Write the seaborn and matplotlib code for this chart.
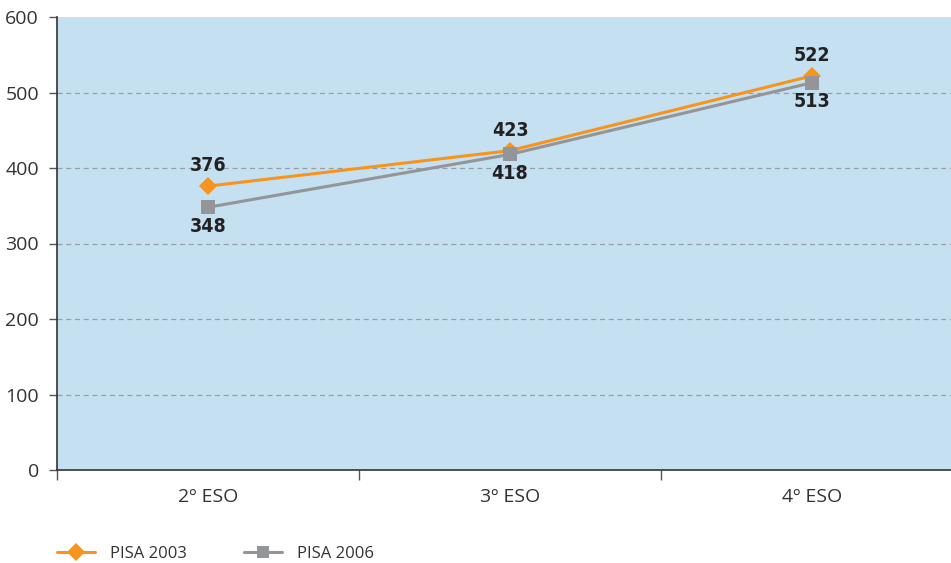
import pandas as pd
import seaborn as sns
import matplotlib.pyplot as plt
from matplotlib.lines import Line2D

cursos = ['2º ESO', '3º ESO', '4º ESO']
pisa_2003 = [376, 423, 522]
pisa_2006 = [348, 418, 513]
series = ['PISA 2003', 'PISA 2006']


def main() -> None:
    df = pd.DataFrame({
        'curso': cursos * 2,
        'valor': pisa_2003 + pisa_2006,
        'serie': [series[0]] * 3 + [series[1]] * 3,
    })

    sns.set_style('white')
    plt.rcParams['font.family'] = ['Open Sans', 'DejaVu Sans']

    colors = {'PISA 2003': '#F7941D', 'PISA 2006': '#939598'}
    markers = {'PISA 2003': 'D', 'PISA 2006': 's'}

    fig = plt.figure(figsize=(9.51, 5.63), dpi=100)
    ax = fig.add_axes([57 / 951, 93 / 563, 894 / 951, 453 / 563])
    ax.set_facecolor('#C5E0F1')

    sns.lineplot(data=df, x='curso', y='valor', hue='serie', style='serie',
                 palette=colors, markers=markers, dashes=False, sort=False,
                 linewidth=2.2, markersize=9.5, markeredgewidth=0, ax=ax, legend=False)

    ax.set_xlim(-0.5, 2.46)
    ax.set_ylim(0, 600)
    ax.set_yticks(range(0, 601, 100))
    ax.set_xticks([0, 1, 2])
    ax.set_xticks([-0.5, 0.5, 1.5], minor=True)
    ax.tick_params(axis='x', which='major', length=0, pad=13, labelsize=14, colors='#333333')
    ax.tick_params(axis='x', which='minor', length=7, width=1, color='#555555', direction='out', bottom=True)
    ax.tick_params(axis='y', length=6, width=1, color='#555555', direction='out', left=True,
                   pad=7, labelsize=14, labelcolor='#333333')
    ax.set_xlabel('')
    ax.set_ylabel('')

    for y in range(100, 600, 100):
        ax.axhline(y, color='#969ea6', linestyle=(0, (4, 3)), linewidth=0.9, zorder=0.5)

    for s in ['top', 'right']:
        ax.spines[s].set_visible(False)
    for s in ['left', 'bottom']:
        ax.spines[s].set_color('#333333')
        ax.spines[s].set_linewidth(1.2)

    for i, v in enumerate(pisa_2003):
        ax.annotate(str(v), (i, v), xytext=(0, 14.5), textcoords='offset points',
                    ha='center', va='center', fontsize=14, fontweight='bold',
                    family='DejaVu Sans', fontstretch='condensed', color='#222222')
    for i, v in enumerate(pisa_2006):
        ax.annotate(str(v), (i, v), xytext=(0, -13.5), textcoords='offset points',
                    ha='center', va='center', fontsize=14, fontweight='bold',
                    family='DejaVu Sans', fontstretch='condensed', color='#222222')

    handles = [Line2D([], [], color=colors[s], marker=markers[s], markersize=9,
                      markeredgewidth=0, linewidth=2.2) for s in series]
    fig.legend(handles, series, loc='center left', bbox_to_anchor=(42 / 951, 1 - 554 / 563),
               ncol=2, frameon=False, fontsize=12, handlelength=2.3, handletextpad=0.9,
               columnspacing=3.4, labelcolor='#333333')

    fig.savefig('out.png', dpi=100)


if __name__ == '__main__':
    main()
